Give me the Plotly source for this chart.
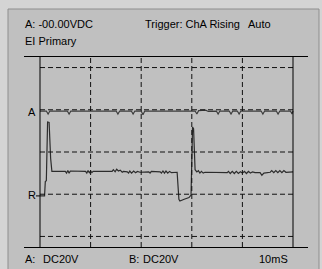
import plotly.graph_objects as go

# Channel A trace (time in ms, level in divisions)
a_t = [0, 0.25, 0.32, 0.39, 1.08, 1.15, 1.22, 3.01, 3.08, 3.15, 3.61, 3.68, 3.75,
       4.0, 4.07, 4.14, 6.13, 6.2, 6.27, 6.55, 6.65, 6.97, 7.04, 7.11, 7.48, 7.55,
       7.62, 7.8, 7.87, 7.94, 8.74, 8.81, 8.88, 9.34, 9.41, 9.48, 9.9, 9.96, 10]
a_v = [0.97, 0.97, 0.9, 0.97, 0.97, 0.9, 0.97, 0.97, 0.9, 0.97, 0.97, 0.9, 0.97,
       0.97, 0.88, 0.97, 0.97, 0.9, 0.98, 0.99, 0.96, 0.97, 0.9, 0.97, 0.97, 0.9,
       0.97, 0.97, 0.9, 0.97, 0.97, 0.9, 0.97, 0.97, 0.9, 0.97, 0.97, 0.9, 0.97]

# Channel B trace
b_t = [0, 0.18, 0.21, 0.25, 0.30, 0.36, 0.42, 0.47, 1.0, 1.05, 1.1, 1.15, 1.2,
       1.8, 1.85, 1.9, 1.95, 2.0, 2.05, 2.1, 2.85, 2.9, 2.97, 3.03, 3.1, 3.17, 3.25,
       3.3, 3.45, 3.5, 3.55, 3.62, 3.7, 3.78, 3.85, 3.95, 4.3, 4.35, 4.4, 4.75, 4.8,
       4.86, 4.92, 4.98, 5.05, 5.12, 5.2, 5.42, 5.49, 5.53, 5.7, 5.89, 5.97, 6.03,
       6.07, 6.13, 6.2, 6.26, 6.32, 6.38, 6.45, 6.52, 7.4, 7.45, 7.52, 7.6, 7.68,
       7.76, 7.84, 7.92, 8.0, 8.08, 8.16, 8.24, 8.32, 8.4, 8.5, 8.7, 8.77, 8.85,
       9.1, 9.16, 9.24, 9.32, 9.4, 9.48, 9.56, 9.64, 9.72, 10]
b_v = [-1.04, -1.04, -0.70, -0.68, 0.71, 0.70, -0.15, -0.46, -0.46, -0.5, -0.44,
       -0.5, -0.45, -0.46, -0.5, -0.44, -0.49, -0.45, -0.49, -0.46, -0.46, -0.42,
       -0.47, -0.41, -0.45, -0.43, -0.48, -0.46, -0.47, -0.5, -0.45, -0.5, -0.45,
       -0.49, -0.46, -0.48, -0.47, -0.5, -0.46, -0.47, -0.5, -0.45, -0.5, -0.45,
       -0.5, -0.46, -0.49, -0.48, -1.12, -1.16, -1.12, -1.08, -1.02, 0.59, 0.55,
       -0.42, -0.47, -0.44, -0.5, -0.46, -0.5, -0.48, -0.49, -0.46, -0.51, -0.46,
       -0.51, -0.46, -0.51, -0.47, -0.5, -0.46, -0.51, -0.46, -0.5, -0.47, -0.49,
       -0.49, -0.55, -0.5, -0.48, -0.44, -0.49, -0.44, -0.49, -0.44, -0.49, -0.44,
       -0.48, -0.47]

v_grid = [2, 4, 6, 8]
h_grid = [-2, -1, 0, 1, 2]
t_edges = [0, 10]

fig = go.Figure()
fig.add_trace(go.Scatter(x=a_t, y=a_v, mode="lines",
                         line=dict(color="#3c3c3c", width=1.2), hoverinfo="skip"))
fig.add_trace(go.Scatter(x=b_t, y=b_v, mode="lines",
                         line=dict(color="#2c2c2c", width=1.2), hoverinfo="skip"))

shapes = []
# panel
shapes.append(dict(type="rect", xref="paper", yref="paper",
                   x0=(8 - 24) / 284, x1=(319 - 24) / 284,
                   y0=(247 - 275) / 190, y1=(247 - 9) / 190,
                   fillcolor="#c0c0c0", line=dict(color="#8e8e8e", width=1),
                   layer="below"))
for g in v_grid:
    shapes.append(dict(type="line", xref="x", yref="paper", x0=g, x1=g, y0=0, y1=1,
                       line=dict(color="#111111", width=1, dash="5px,3px")))
for g in h_grid:
    shapes.append(dict(type="line", xref="x", yref="y", x0=0, x1=10, y0=g, y1=g,
                       line=dict(color="#111111", width=1, dash="5px,3px")))
for e in t_edges:
    shapes.append(dict(type="line", xref="x", yref="paper", x0=e, x1=e, y0=0, y1=1,
                       line=dict(color="#000000", width=1)))
# R marker tick
shapes.append(dict(type="line", xref="x", yref="y", x0=-0.16, x1=0, y0=-1.04, y1=-1.04,
                   line=dict(color="#000000", width=1)))

fnt = dict(family="Liberation Sans, Arial, sans-serif", size=11, color="#000000")

def ann(text, x, y, xanchor="left", xref="paper", yref="paper"):
    return dict(text=text, x=x, y=y, xref=xref, yref=yref, xanchor=xanchor,
                yanchor="middle", showarrow=False, font=fnt, borderpad=0)

annotations = [
    ann("A: -00.00VDC", 0.0, (247 - 24) / 190),
    ann("Trigger: ChA Rising", (144 - 24) / 284, (247 - 24) / 190),
    ann("Auto", (247 - 24) / 284, (247 - 24) / 190),
    ann("EI Primary", 0.0, (247 - 41) / 190),
    ann("A", (37 - 24) / 284, 0.95, xanchor="right", yref="y"),
    ann("R", (37 - 24) / 284, -1.02, xanchor="right", yref="y"),
    ann("A:", 0.0, (247 - 258.5) / 190),
    ann("DC20V", (42 - 24) / 284, (247 - 258.5) / 190),
    ann("B:", (128 - 24) / 284, (247 - 258.5) / 190),
    ann("DC20V", (142 - 24) / 284, (247 - 258.5) / 190),
    ann("10mS", (289 - 24) / 284, (247 - 258.5) / 190, xanchor="right"),
]

fig.update_layout(
    width=322, height=269,
    margin=dict(l=24, r=14, t=57, b=22, pad=0),
    paper_bgcolor="#d4d4d4",
    plot_bgcolor="rgba(0,0,0,0)",
    showlegend=False,
    shapes=shapes,
    annotations=annotations,
    xaxis=dict(range=[-16 / 25.3, 10 + 15 / 25.3], showgrid=False, zeroline=False,
               showticklabels=False, ticks="", showline=True, mirror=True,
               linecolor="#000000", linewidth=1, fixedrange=True),
    yaxis=dict(range=[-2.25, 2.25], showgrid=False, zeroline=False,
               showticklabels=False, ticks="", showline=False, fixedrange=True),
)

fig.write_html(
    "out.html",
    config={"displayModeBar": False},
    post_script="document.body.style.margin='0';document.body.style.overflow='hidden';",
)
